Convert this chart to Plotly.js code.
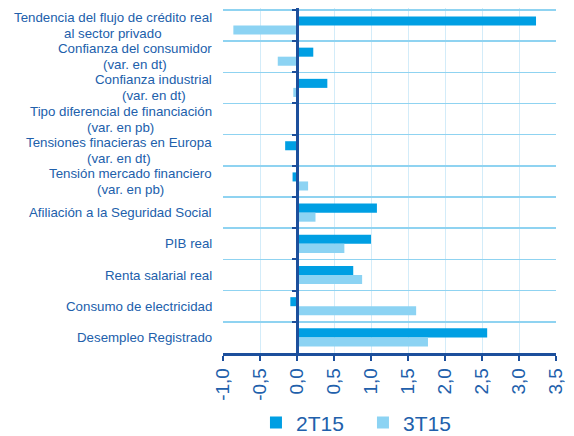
<!DOCTYPE html>
<html>
<head>
<meta charset="utf-8">
<script src="https://cdn.plot.ly/plotly-3.0.1.min.js"></script>
<style>
  body { margin: 0; background: #fff; }
  #chart { width: 574px; height: 436px; }
</style>
</head>
<body>
<div id="chart"></div>
<script>
// indicadores (de arriba abajo)
var categories = [
  "Tendencia del flujo de crédito real|al sector privado",
  "Confianza del consumidor|(var. en dt)",
  "Confianza industrial|(var. en dt)",
  "Tipo diferencial de financiación|(var. en pb)",
  "Tensiones finacieras en Europa|(var. en dt)",
  "Tensión mercado financiero|(var. en pb)",
  "Afiliación a la Seguridad Social",
  "PIB real",
  "Renta salarial real",
  "Consumo de electricidad",
  "Desempleo Registrado"
];
var vals2T15 = [3.23, 0.22, 0.41, 0.02, -0.16, -0.06, 1.08, 1.00, 0.76, -0.09, 2.57];
var vals3T15 = [-0.86, -0.26, -0.05, 0.0, 0.0, 0.15, 0.25, 0.64, 0.88, 1.61, 1.77];

var xTickVals = [-1, -0.5, 0, 0.5, 1, 1.5, 2, 2.5, 3, 3.5];
var xTickText = ['-1,0', '-0,5', '0,0', '0,5', '1,0', '1,5', '2,0', '2,5', '3,0', '3,5'];

var textBlue = '#2160ab';
var axisBlue = '#1c4f9c';
var labelFont = 'Liberation Sans, Arial, sans-serif';
var labelSize = 13.3;

var trace1 = {
  type: 'bar', orientation: 'h', name: '2T15',
  y: categories, x: vals2T15,
  marker: {color: '#009fe3'}
};
var trace2 = {
  type: 'bar', orientation: 'h', name: '3T15',
  y: categories, x: vals3T15,
  marker: {color: '#8cd3f3'}
};

// etiquetas de categoria: cada linea centrada dentro del bloque alineado a la derecha
var ctx = document.createElement('canvas').getContext('2d');
ctx.font = labelSize + 'px "Liberation Sans"';
var labels = [];
categories.forEach(function (c) {
  var lines = c.split('|');
  var w = Math.max.apply(null, lines.map(function (l) { return ctx.measureText(l).width; }));
  lines.forEach(function (l, i) {
    labels.push({
      text: l, xref: 'paper', x: 0, xshift: -11 - w / 2, xanchor: 'center',
      yref: 'y', y: c, yanchor: 'middle',
      yshift: (lines.length - 1) * 8 - i * 16,
      showarrow: false,
      font: {family: labelFont, size: labelSize, color: textBlue}
    });
  });
});

var layout = {
  width: 574, height: 436,
  margin: {l: 223, r: 18, t: 8, b: 83},
  paper_bgcolor: '#fff', plot_bgcolor: '#fff',
  barmode: 'group', bargap: 0.42, bargroupgap: 0,
  font: {family: labelFont, color: textBlue},
  showlegend: true,
  legend: {
    orientation: 'h', xref: 'paper', x: 0.099, xanchor: 'left',
    yref: 'container', y: 0.03, yanchor: 'middle',
    font: {size: 21, color: textBlue}, entrywidth: 62
  },
  xaxis: {
    range: [-1, 3.5], tickmode: 'array', tickvals: xTickVals, ticktext: xTickText,
    tickangle: -90, tickfont: {size: 19, color: textBlue},
    showgrid: true, gridcolor: '#d3ecf9', gridwidth: 1,
    zeroline: false,
    showline: true, linecolor: axisBlue, linewidth: 2.5,
    ticks: 'outside', ticklen: 5, tickwidth: 2, tickcolor: axisBlue,
    fixedrange: true
  },
  yaxis: {
    type: 'category', autorange: 'reversed',
    anchor: 'free', position: 1 / 4.5,
    tickson: 'boundaries',
    showticklabels: false,
    showgrid: true, gridcolor: '#8fd3f1', gridwidth: 1.5,
    zeroline: false,
    showline: true, linecolor: axisBlue, linewidth: 2.5,
    ticks: 'outside', ticklen: 4, tickwidth: 2, tickcolor: axisBlue,
    fixedrange: true
  },
  annotations: labels
};

Plotly.newPlot('chart', [trace1, trace2], layout, {displayModeBar: false, staticPlot: true});
</script>
</body>
</html>
